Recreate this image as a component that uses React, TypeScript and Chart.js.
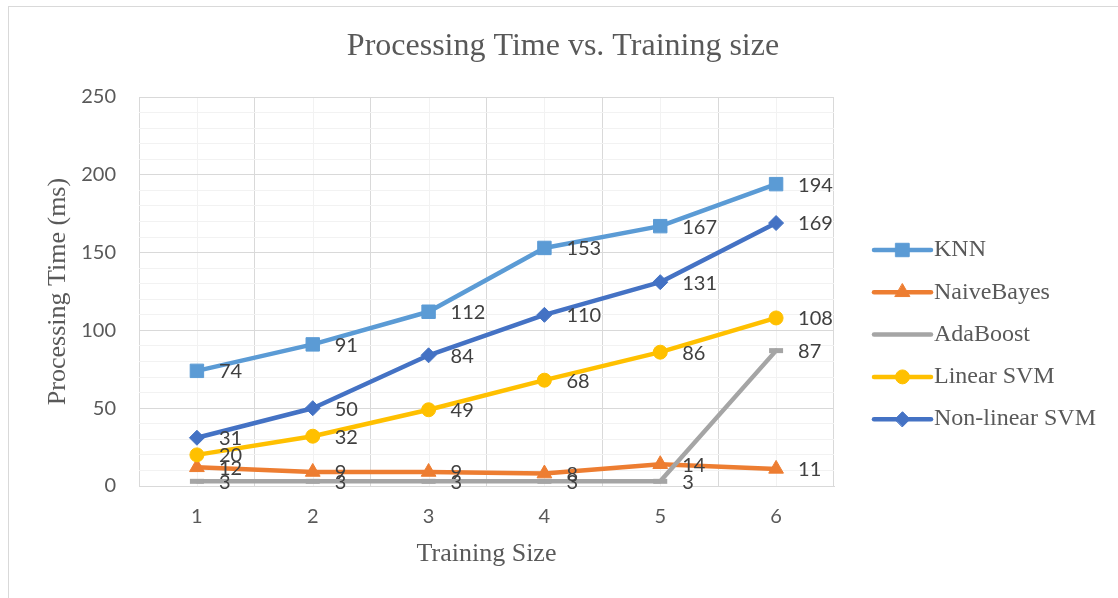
import React, { useEffect, useRef } from 'react';
import { Chart, registerables } from 'chart.js';
import { drawPoint } from 'chart.js/helpers';

Chart.register(...registerables);

// Training sizes on the x axis
const trainingSizes = ['1', '2', '3', '4', '5', '6'];

// Processing time (ms) per classifier
const knnTimes = [74, 91, 112, 153, 167, 194];
const naiveBayesTimes = [12, 9, 9, 8, 14, 11];
const adaBoostTimes = [3, 3, 3, 3, 3, 87];
const linearSvmTimes = [20, 32, 49, 68, 86, 108];
const nonLinearSvmTimes = [31, 50, 84, 110, 131, 169];

// Value axis range and tick spacing
const yAxisMax = 250;
const yMajorStep = 50;
const yMinorStep = 10;

const SERIF = "'Liberation Serif', 'Times New Roman', serif";
const SANS = "Lato, 'Open Sans', sans-serif";
const TEXT_GREY = '#595959';
const LABEL_GREY = '#404040';
const MAJOR_GRID = '#d9d9d9';
const MINOR_GRID = '#f2f2f2';

type SeriesStyle = {
  label: string;
  data: number[];
  color: string;
  pointStyle: string;
  radius: number;
  markerBorder: number;
};

const series: SeriesStyle[] = [
  { label: 'KNN', data: knnTimes, color: '#5B9BD5', pointStyle: 'rect', radius: 9.5, markerBorder: 1 },
  { label: 'NaiveBayes', data: naiveBayesTimes, color: '#ED7D31', pointStyle: 'triangle', radius: 8.5, markerBorder: 1 },
  { label: 'AdaBoost', data: adaBoostTimes, color: '#A5A5A5', pointStyle: 'line', radius: 7, markerBorder: 5 },
  { label: 'Linear SVM', data: linearSvmTimes, color: '#FFC000', pointStyle: 'circle', radius: 7, markerBorder: 1 },
  { label: 'Non-linear SVM', data: nonLinearSvmTimes, color: '#4472C4', pointStyle: 'rectRot', radius: 7.5, markerBorder: 1 },
];

// Light vertical lines through each category centre, under the main grid
const minorCategoryGrid = {
  id: 'minorCategoryGrid',
  beforeDraw(chart: any) {
    const { ctx, chartArea } = chart;
    const xScale = chart.scales.x;
    ctx.save();
    ctx.strokeStyle = MINOR_GRID;
    ctx.lineWidth = 1;
    trainingSizes.forEach((_, i) => {
      const x = Math.round(xScale.getPixelForValue(i)) + 0.5;
      ctx.beginPath();
      ctx.moveTo(x, chartArea.top);
      ctx.lineTo(x, chartArea.bottom);
      ctx.stroke();
    });
    ctx.restore();
  },
};

// Value labels to the right of every point
const valueLabels = {
  id: 'valueLabels',
  afterDatasetsDraw(chart: any) {
    const { ctx } = chart;
    ctx.save();
    ctx.font = `20px ${SANS}`;
    ctx.fillStyle = LABEL_GREY;
    ctx.textAlign = 'left';
    ctx.textBaseline = 'middle';
    chart.data.datasets.forEach((ds: any, i: number) => {
      const meta = chart.getDatasetMeta(i);
      meta.data.forEach((pt: any, j: number) => {
        ctx.fillText(String(ds.data[j]), pt.x + 22, pt.y + 1);
      });
    });
    ctx.restore();
  },
};

// Legend with a line sample and the series marker on it
const lineLegend = {
  id: 'lineLegend',
  afterDraw(chart: any) {
    const { ctx, chartArea } = chart;
    const x1 = chartArea.right + 40;
    const lineLen = 57;
    const firstY = chartArea.top + 153;
    const rowGap = 42.3;
    ctx.save();
    series.forEach((s, i) => {
      const y = firstY + i * rowGap;
      ctx.strokeStyle = s.color;
      ctx.fillStyle = s.color;
      ctx.lineWidth = 4.5;
      ctx.lineCap = 'round';
      ctx.beginPath();
      ctx.moveTo(x1, y);
      ctx.lineTo(x1 + lineLen, y);
      ctx.stroke();
      if (s.pointStyle !== 'line') {
        ctx.lineWidth = s.markerBorder;
        drawPoint(ctx, { pointStyle: s.pointStyle as any, radius: s.radius, rotation: 0, borderWidth: s.markerBorder }, x1 + lineLen / 2, y);
      }
      ctx.fillStyle = TEXT_GREY;
      ctx.font = `24px ${SERIF}`;
      ctx.textAlign = 'left';
      ctx.textBaseline = 'middle';
      ctx.fillText(s.label, x1 + lineLen + 3, y);
    });
    ctx.restore();
  },
};

export default function App() {
  const canvasRef = useRef<HTMLCanvasElement>(null);

  useEffect(() => {
    if (!canvasRef.current) return;
    const n = series.length;
    const chart = new Chart(canvasRef.current, {
      type: 'line',
      data: {
        labels: trainingSizes,
        datasets: series.map((s, i) => ({
          label: s.label,
          data: s.data,
          borderColor: s.color,
          backgroundColor: s.color,
          borderWidth: 4.5,
          borderCapStyle: 'round',
          borderJoinStyle: 'round',
          tension: 0,
          fill: false,
          pointStyle: s.pointStyle as any,
          pointRadius: s.radius,
          pointHoverRadius: s.radius,
          pointBorderWidth: s.markerBorder,
          pointBackgroundColor: s.color,
          pointBorderColor: s.color,
          order: n - i,
        })),
      },
      options: {
        responsive: false,
        animation: false,
        events: [],
        layout: { padding: { left: 8, top: 0, right: 0, bottom: 0 } },
        plugins: {
          legend: { display: false },
          tooltip: { enabled: false },
          title: {
            display: true,
            text: 'Processing Time vs. Training size',
            color: TEXT_GREY,
            font: { family: SERIF, size: 32, weight: 'normal' },
            padding: { top: 27, bottom: 31.6 },
          },
        },
        scales: {
          x: {
            type: 'category',
            offset: true,
            grid: { offset: true, color: MAJOR_GRID, lineWidth: 1, drawTicks: false },
            border: { color: MAJOR_GRID },
            ticks: { color: TEXT_GREY, font: { family: SANS, size: 20 }, padding: 19 },
            title: {
              display: true,
              text: 'Training Size',
              color: TEXT_GREY,
              font: { family: SERIF, size: 26 },
              padding: { top: 0, bottom: 28 },
            },
            afterFit(scale: any) {
              scale.height = 112;
            },
          },
          y: {
            position: 'left',
            min: 0,
            max: yAxisMax,
            ticks: {
              stepSize: yMinorStep,
              autoSkip: false,
              color: TEXT_GREY,
              font: { family: SANS, size: 20 },
              padding: 23,
              callback: (v: any) => (Number(v) % yMajorStep === 0 ? String(v) : ''),
            },
            grid: {
              drawTicks: false,
              lineWidth: 1,
              color: (c: any) => (c.tick && c.tick.value % yMajorStep === 0 ? MAJOR_GRID : MINOR_GRID),
            },
            border: { display: false },
            title: {
              display: true,
              text: 'Processing Time (ms)',
              color: TEXT_GREY,
              font: { family: SERIF, size: 26 },
              padding: { top: 35, bottom: 0 },
            },
            afterFit(scale: any) {
              scale.width = 131;
            },
          },
          legendSpace: {
            type: 'linear',
            position: 'right',
            display: true,
            grid: { display: false },
            border: { display: false },
            ticks: { display: false },
            afterFit(scale: any) {
              scale.width = 284;
            },
          },
        },
      } as any,
      plugins: [minorCategoryGrid, valueLabels, lineLegend],
    });
    return () => chart.destroy();
  }, []);

  return (
    <div style={{ position: 'fixed', left: 0, top: 0, width: 1118, height: 598, overflow: 'hidden', background: '#fff' }}>
      <div style={{ position: 'absolute', left: 8, top: 6, width: 1200, height: 700, border: '1px solid #d9d9d9' }} />
      <canvas ref={canvasRef} width={1118} height={598} style={{ position: 'absolute', left: 0, top: 0 }} />
    </div>
  );
}
